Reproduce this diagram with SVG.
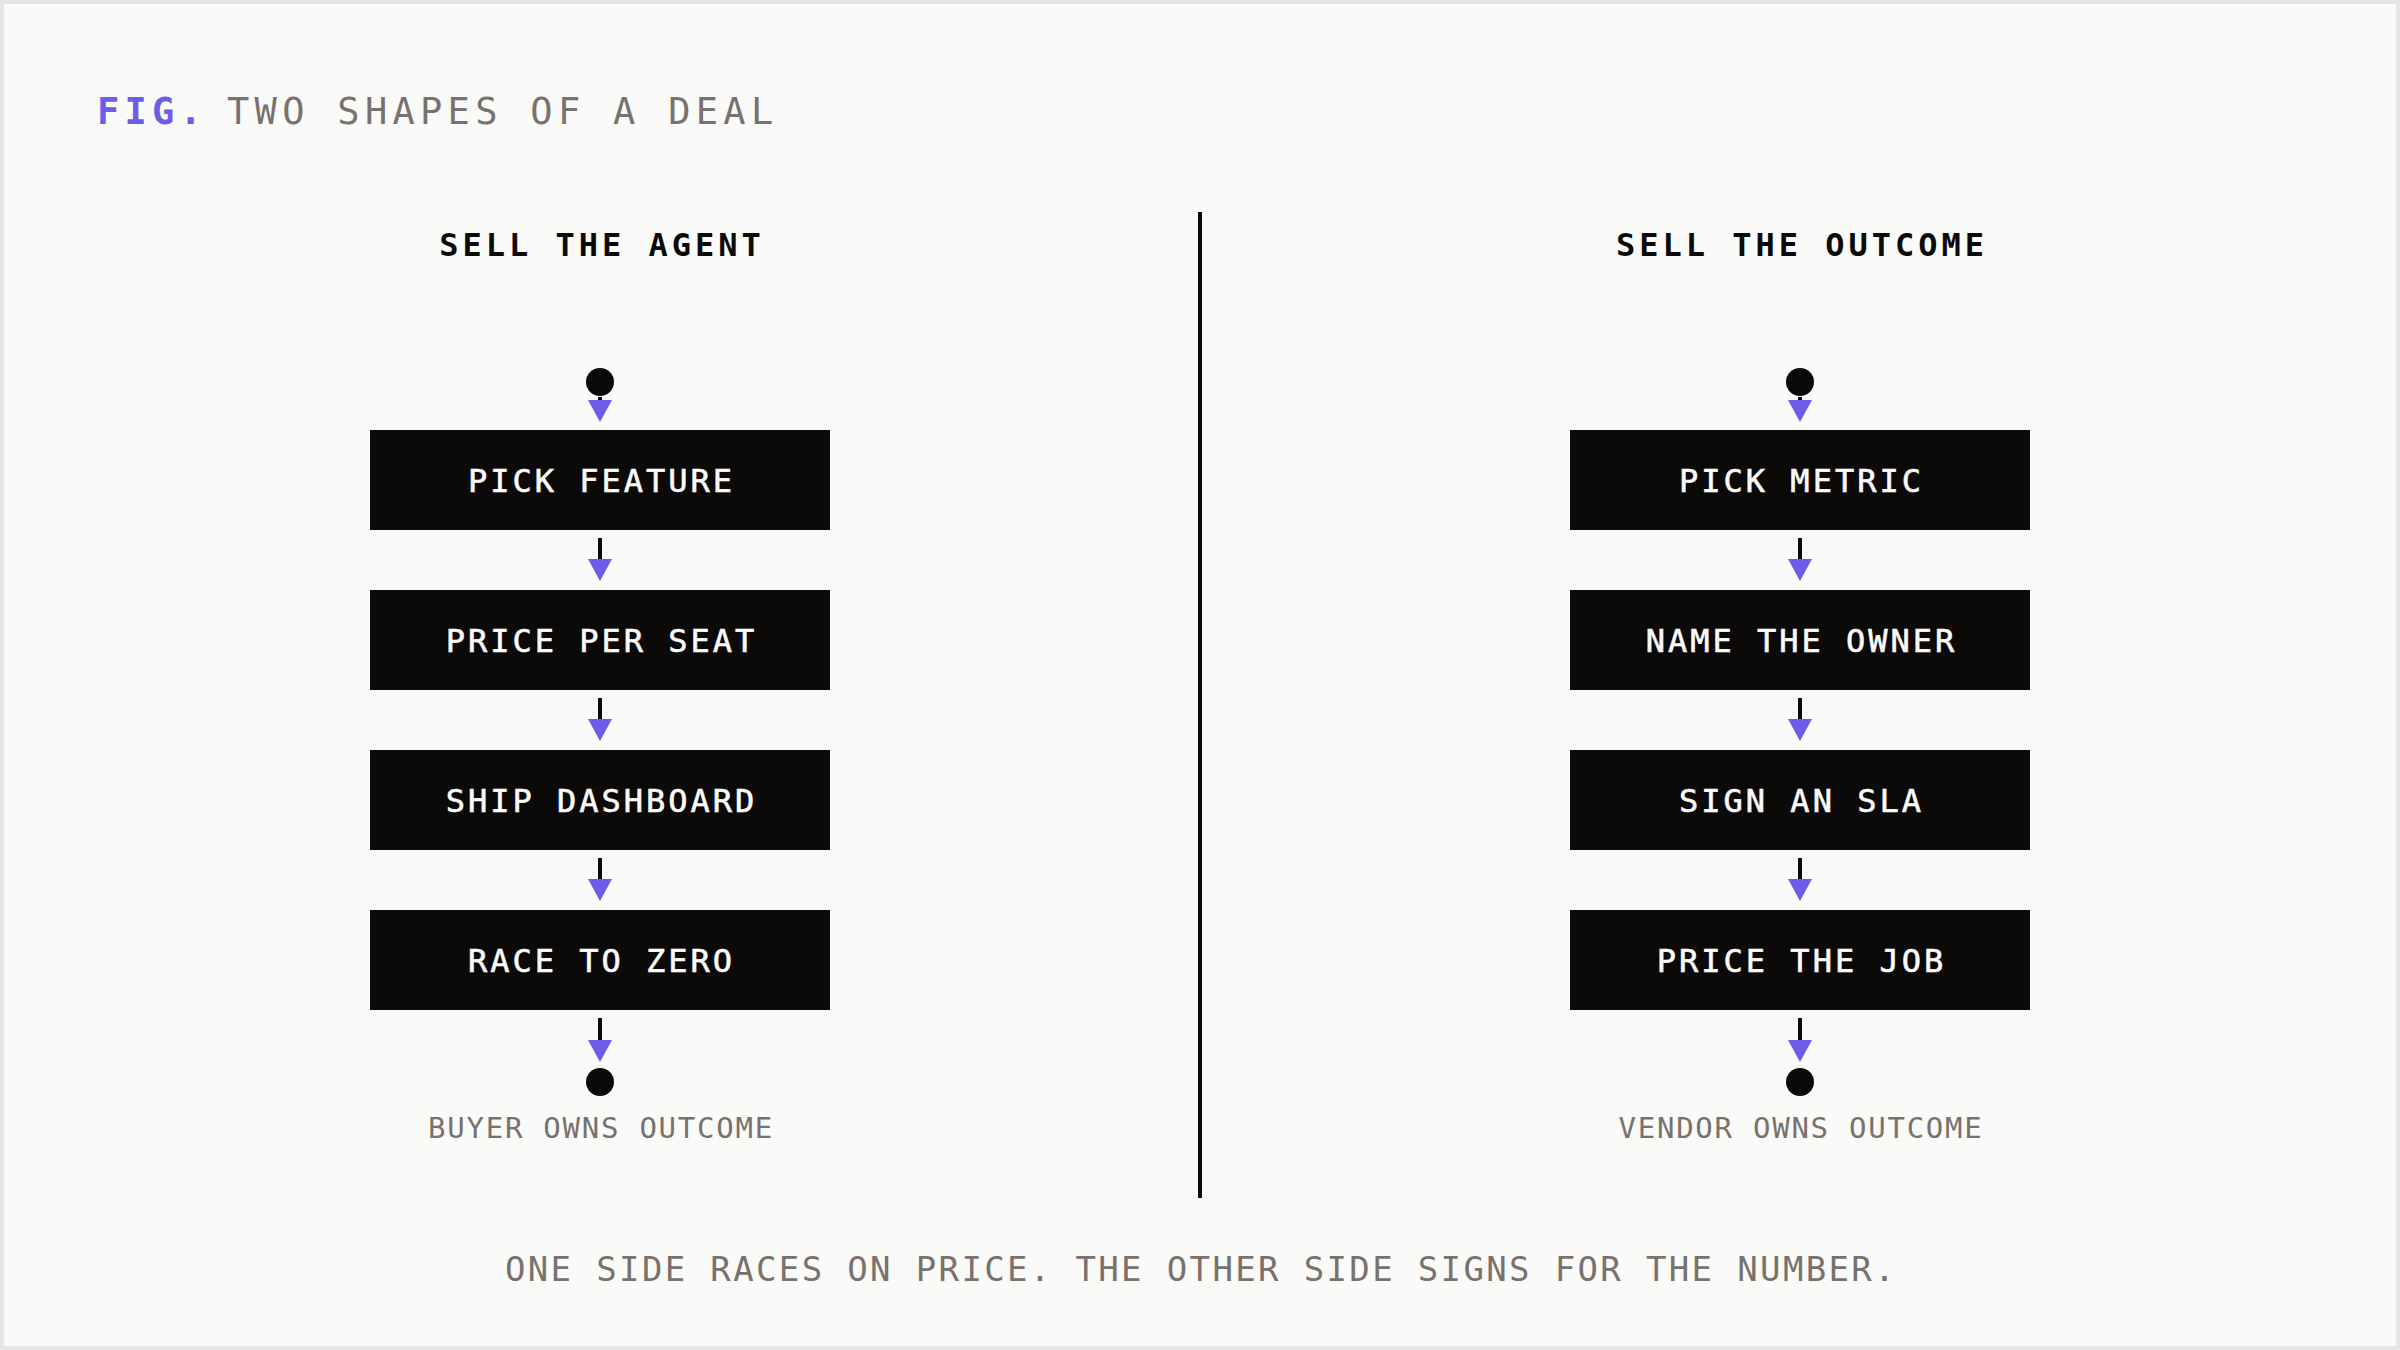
<svg xmlns="http://www.w3.org/2000/svg" width="2400" height="1350" viewBox="0 0 2400 1350">
  <style>
    text { font-family: "DejaVu Sans Mono", "Liberation Mono", monospace; }
    .title { font-size: 37px; letter-spacing: 5.3px; fill: #78716c; }
    .fig { font-size: 37px; letter-spacing: 5.2px; fill: #6c5ce7; font-weight: bold; }
    .head { font-size: 32px; letter-spacing: 4px; fill: #0c0a09; font-weight: bold; text-anchor: middle; }
    .box rect { fill: #0c0a09; }
    .box text { font-size: 32px; letter-spacing: 3px; fill: #fafaf9; stroke: #fafaf9; stroke-width: 0.6px; text-anchor: middle; }
    .label { font-size: 29px; letter-spacing: 1.75px; fill: #78716c; text-anchor: middle; }
    .caption { font-size: 34px; letter-spacing: 2.35px; fill: #78716c; text-anchor: middle; }
    .dot { fill: #0c0a09; }
    .conn line { stroke: #0c0a09; stroke-width: 4; }
  </style>
  <defs>
    <marker id="arrow" markerUnits="userSpaceOnUse" markerWidth="22" markerHeight="24" refX="12" refY="12" orient="auto" viewBox="0 0 22 24">
      <path d="M0,0 L22,12 L0,24 z" fill="#6c5ce7"/>
    </marker>
  </defs>

  <rect x="2" y="2" width="2396" height="1346" fill="#fafaf9" stroke="#e7e5e4" stroke-width="4"/>

  <g id="title">
    <text class="fig" x="97" y="124">FIG.</text>
    <text class="title" x="227" y="124">TWO SHAPES OF A DEAL</text>
  </g>

  <line id="divider" x1="1200" y1="212" x2="1200" y2="1198" stroke="#0c0a09" stroke-width="4"/>

  <g id="left-heading"><text class="head" x="602" y="256">SELL THE AGENT</text></g>
  <g id="right-heading"><text class="head" x="1802" y="256">SELL THE OUTCOME</text></g>

  <!-- Left column -->
  <g id="left-start"><circle class="dot" cx="600" cy="382" r="14"/></g>
  <g id="left-1" class="box"><rect x="370" y="430" width="460" height="100"/><text x="601.5" y="491.5">PICK FEATURE</text></g>
  <g id="left-2" class="box"><rect x="370" y="590" width="460" height="100"/><text x="601.5" y="651.5">PRICE PER SEAT</text></g>
  <g id="left-3" class="box"><rect x="370" y="750" width="460" height="100"/><text x="601.5" y="811.5">SHIP DASHBOARD</text></g>
  <g id="left-4" class="box"><rect x="370" y="910" width="460" height="100"/><text x="601.5" y="971.5">RACE TO ZERO</text></g>
  <g id="left-end"><circle class="dot" cx="600" cy="1082" r="14"/><text class="label" x="601" y="1138">BUYER OWNS OUTCOME</text></g>

  <!-- Right column -->
  <g id="right-start"><circle class="dot" cx="1800" cy="382" r="14"/></g>
  <g id="right-1" class="box"><rect x="1570" y="430" width="460" height="100"/><text x="1801.5" y="491.5">PICK METRIC</text></g>
  <g id="right-2" class="box"><rect x="1570" y="590" width="460" height="100"/><text x="1801.5" y="651.5">NAME THE OWNER</text></g>
  <g id="right-3" class="box"><rect x="1570" y="750" width="460" height="100"/><text x="1801.5" y="811.5">SIGN AN SLA</text></g>
  <g id="right-4" class="box"><rect x="1570" y="910" width="460" height="100"/><text x="1801.5" y="971.5">PRICE THE JOB</text></g>
  <g id="right-end"><circle class="dot" cx="1800" cy="1082" r="14"/><text class="label" x="1801" y="1138">VENDOR OWNS OUTCOME</text></g>

  <g id="connectors" class="conn">
    <line x1="600" y1="397" x2="600" y2="412" marker-end="url(#arrow)"/>
    <line x1="600" y1="538" x2="600" y2="571" marker-end="url(#arrow)"/>
    <line x1="600" y1="698" x2="600" y2="731" marker-end="url(#arrow)"/>
    <line x1="600" y1="858" x2="600" y2="891" marker-end="url(#arrow)"/>
    <line x1="600" y1="1018" x2="600" y2="1052" marker-end="url(#arrow)"/>
    <line x1="1800" y1="397" x2="1800" y2="412" marker-end="url(#arrow)"/>
    <line x1="1800" y1="538" x2="1800" y2="571" marker-end="url(#arrow)"/>
    <line x1="1800" y1="698" x2="1800" y2="731" marker-end="url(#arrow)"/>
    <line x1="1800" y1="858" x2="1800" y2="891" marker-end="url(#arrow)"/>
    <line x1="1800" y1="1018" x2="1800" y2="1052" marker-end="url(#arrow)"/>
  </g>

  <g id="caption"><text class="caption" x="1201" y="1281">ONE SIDE RACES ON PRICE. THE OTHER SIDE SIGNS FOR THE NUMBER.</text></g>
</svg>
